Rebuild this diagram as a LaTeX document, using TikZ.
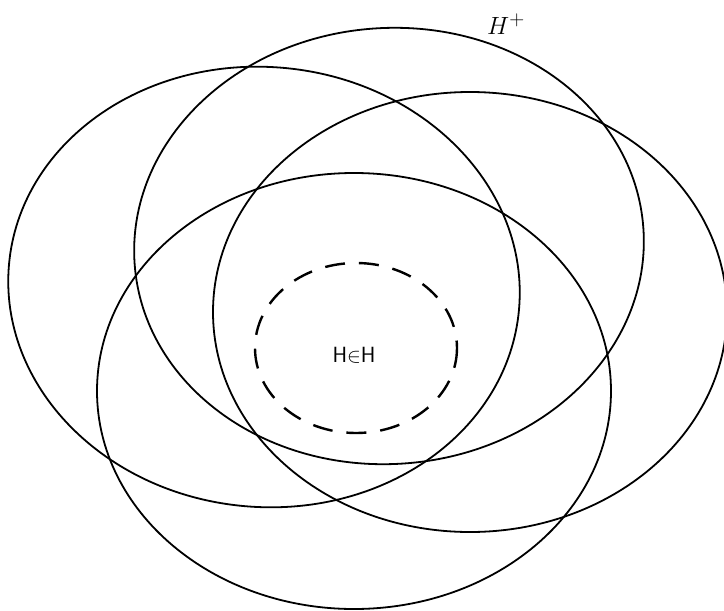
\documentclass[tikz,border=0pt]{standalone}
\begin{document}
\begin{tikzpicture}[x=1pt,y=-1pt,
		set/.style={draw, line width=1.8pt},
		core/.style={draw, line width=2.4pt, dash pattern=on 20pt off 14pt},
		label node/.style={font=\sffamily\fontsize{22}{26}\selectfont}
		]
		\useasboundingbox (0,0) rectangle (724,611);
		
		\coordinate (cA) at (389,246);
		\coordinate (cB) at (264,287);
		\coordinate (cC) at (470,312);
		\coordinate (cD) at (354,391);
		\coordinate (cH) at (356,348);
		
		\draw[set] (cA) ellipse [x radius=255, y radius=218, rotate=4];
		\draw[set] (cB) ellipse [x radius=256, y radius=220, rotate=-5];
		\draw[set] (cC) ellipse [x radius=257, y radius=220];
		\draw[set] (cD) ellipse [x radius=257, y radius=218];
		
		\draw[core] (cH) ellipse [x radius=101, y radius=85];
		
		\node[label node] (inner) at (354,355) {H$\in$H};
		\node[label node, font=\fontsize{24.88}{28}\selectfont] (plus) at (506,24) {$H^{+}$};
		
	\end{tikzpicture}
\end{document}
